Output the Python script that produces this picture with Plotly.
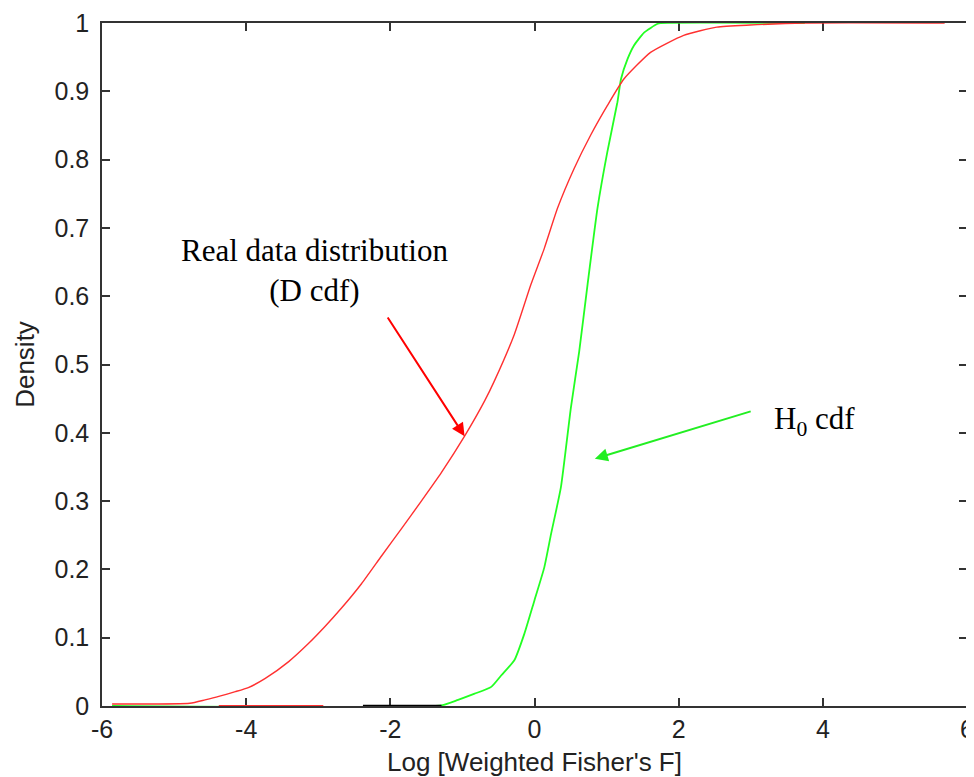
import plotly.graph_objects as go

# Real data distribution (D cdf)
red_x = [-5.86, -4.78, -4.57, -4.38, -4.15, -3.97, -3.74, -3.41, -3.14, -2.91, -2.68,
         -2.40, -2.12, -1.85, -1.57, -1.29, -0.97, -0.69, -0.556, -0.28, -0.05, 0.136,
         0.32, 0.55, 0.78, 1.01, 1.24, 1.61, 2.07, 2.53, 2.99, 3.75, 5.69]
red_y = [0.003, 0.004, 0.009, 0.014, 0.021, 0.027, 0.040, 0.065, 0.091, 0.116, 0.143,
         0.179, 0.220, 0.259, 0.300, 0.342, 0.395, 0.447, 0.476, 0.544, 0.617, 0.670,
         0.729, 0.787, 0.836, 0.879, 0.918, 0.957, 0.982, 0.994, 0.997, 1.0, 1.0]

# red flat segment at zero
red0_x = [-4.38, -2.93]
red0_y = [0.0, 0.0]

# H0 cdf
green_x = [-5.86, -1.29, -1.06, -0.83, -0.60, -0.46, -0.28, -0.14, 0.0, 0.136, 0.23,
           0.366, 0.505, 0.62, 0.736, 0.874, 1.01, 1.15, 1.20, 1.29, 1.38, 1.52, 1.70,
           1.75, 3.75]
green_y = [0.0, 0.001, 0.009, 0.018, 0.028, 0.045, 0.067, 0.106, 0.155, 0.203, 0.252,
           0.320, 0.437, 0.519, 0.617, 0.729, 0.811, 0.884, 0.918, 0.947, 0.967, 0.986,
           0.9985, 1.0, 1.0]

# black flat segment at zero
black_x = [-2.38, -1.29]
black_y = [0.0, 0.0]

x_ticks = [-6, -4, -2, 0, 2, 4, 6]
y_ticks = [0, 0.1, 0.2, 0.3, 0.4, 0.5, 0.6, 0.7, 0.8, 0.9, 1]
y_tick_text = ["0", "0.1", "0.2", "0.3", "0.4", "0.5", "0.6", "0.7", "0.8", "0.9", "1"]

fig = go.Figure()
fig.add_trace(go.Scatter(x=green_x, y=green_y, mode="lines", cliponaxis=False,
                         line=dict(color="#22ff22", width=1.8, shape="spline", smoothing=0.5),
                         showlegend=False))
fig.add_trace(go.Scatter(x=red0_x, y=red0_y, mode="lines", cliponaxis=False,
                         line=dict(color="#ff3030", width=1.8), showlegend=False))
fig.add_trace(go.Scatter(x=black_x, y=black_y, mode="lines", cliponaxis=False,
                         line=dict(color="black", width=2.5), showlegend=False))
fig.add_trace(go.Scatter(x=red_x, y=red_y, mode="lines", cliponaxis=False,
                         line=dict(color="#ff3030", width=1.4, shape="spline", smoothing=0.5),
                         showlegend=False))

axis_common = dict(showline=True, linecolor="#333333", linewidth=1.5, mirror="ticks",
                   ticks="inside", ticklen=8, tickwidth=1.5, tickcolor="#333333",
                   showgrid=False, zeroline=False, automargin=False,
                   ticklabeloverflow="allow", layer="below traces",
                   tickfont=dict(family="Liberation Sans, Arial", size=25, color="#222222"))

fig.update_xaxes(range=[-6, 6], tickvals=x_ticks, ticktext=[str(v) for v in x_ticks],
                 ticklabelstandoff=0,
                 title=dict(text="Log [Weighted Fisher's F]",
                            font=dict(family="Liberation Sans, Arial", size=26, color="#222222"),
                            standoff=14),
                 **axis_common)
fig.update_yaxes(range=[0, 1], tickvals=y_ticks, ticktext=y_tick_text,
                 ticklabelstandoff=6,
                 title=dict(text="Density",
                            font=dict(family="Liberation Sans, Arial", size=26, color="#222222"),
                            standoff=12),
                 **axis_common)

serif = dict(family="Liberation Serif, Times New Roman", size=31, color="black")
fig.add_annotation(x=-3.05, y=0.638, xref="x", yref="y",
                   text="Real data distribution<br>(D cdf)", showarrow=False,
                   font=serif, align="center")
fig.add_annotation(x=3.89, y=0.417, xref="x", yref="y",
                   text="H<sub>0</sub> cdf", showarrow=False, font=serif)
fig.add_annotation(x=-0.97, y=0.395, ax=-2.05, ay=0.571, xref="x", yref="y",
                   axref="x", ayref="y", text="", showarrow=True,
                   arrowhead=2, arrowsize=1.3, arrowwidth=2, arrowcolor="red")
fig.add_annotation(x=0.837, y=0.362, ax=3.02, ay=0.432, xref="x", yref="y",
                   axref="x", ayref="y", text="", showarrow=True,
                   arrowhead=2, arrowsize=1.3, arrowwidth=2, arrowcolor="#22ee22")

# page body has a default margin; figure sized/offset to compensate
fig.update_layout(width=966, height=769, margin=dict(l=94, r=7, t=15, b=71),
                  plot_bgcolor="white", paper_bgcolor="white")

fig.write_html("out.html")
